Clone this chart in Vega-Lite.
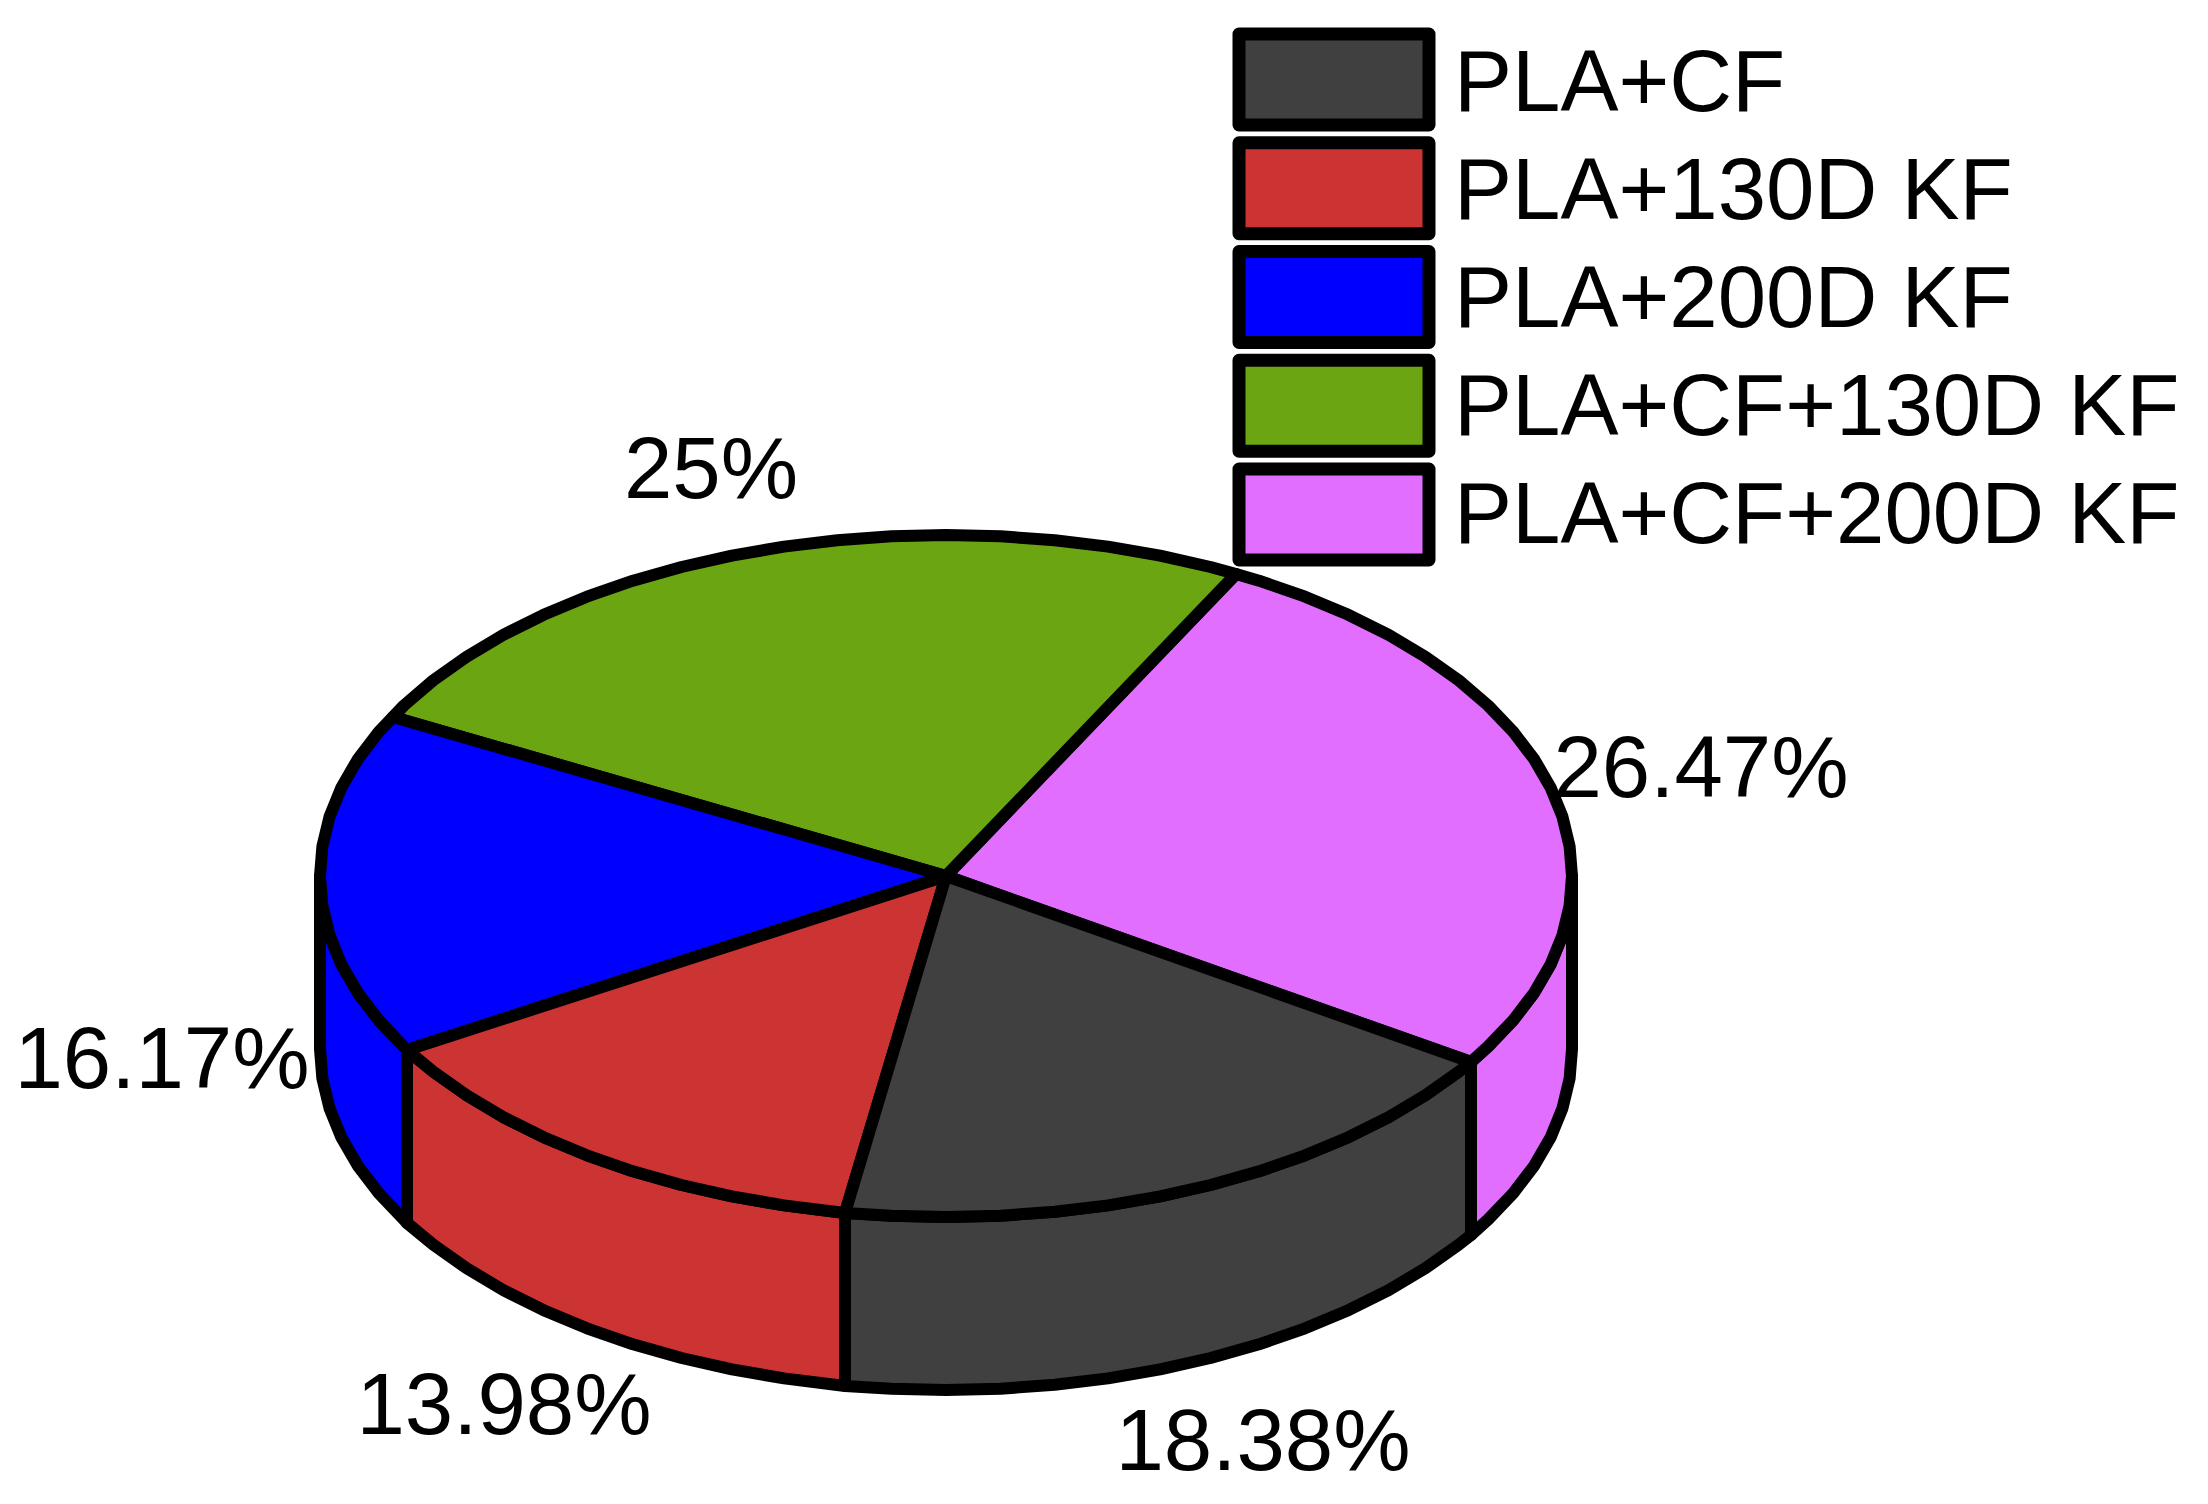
{"$schema":"https://vega.github.io/schema/vega-lite/v6.json","width":2208,"height":1504,"autosize":{"type":"fit","contains":"padding"},"padding":0,"background":"white","view":{"stroke":null},
"datasets":{
"sides":[
{"s":"PLA+200D KF","i":0,"x":320,"y":876},{"s":"PLA+200D KF","i":1,"x":322.4,"y":905.7},{"s":"PLA+200D KF","i":2,"x":329.5,"y":935.2},{"s":"PLA+200D KF","i":3,"x":341.3,"y":964.3},{"s":"PLA+200D KF","i":4,"x":357.7,"y":992.6},{"s":"PLA+200D KF","i":5,"x":378.7,"y":1020.1},{"s":"PLA+200D KF","i":6,"x":407,"y":1050},{"s":"PLA+200D KF","i":7,"x":407,"y":1223},{"s":"PLA+200D KF","i":8,"x":378.7,"y":1193.1},{"s":"PLA+200D KF","i":9,"x":357.7,"y":1165.6},{"s":"PLA+200D KF","i":10,"x":341.3,"y":1137.3},{"s":"PLA+200D KF","i":11,"x":329.5,"y":1108.2},{"s":"PLA+200D KF","i":12,"x":322.4,"y":1078.7},{"s":"PLA+200D KF","i":13,"x":320,"y":1049},
{"s":"PLA+130D KF","i":0,"x":407,"y":1050},{"s":"PLA+130D KF","i":1,"x":433.2,"y":1071.6},{"s":"PLA+130D KF","i":2,"x":466.5,"y":1095.2},{"s":"PLA+130D KF","i":3,"x":503.3,"y":1117.1},{"s":"PLA+130D KF","i":4,"x":543.6,"y":1137.2},{"s":"PLA+130D KF","i":5,"x":586.9,"y":1155.3},{"s":"PLA+130D KF","i":6,"x":633,"y":1171.3},{"s":"PLA+130D KF","i":7,"x":681.5,"y":1185},{"s":"PLA+130D KF","i":8,"x":731.9,"y":1196.4},{"s":"PLA+130D KF","i":9,"x":784,"y":1205.4},{"s":"PLA+130D KF","i":10,"x":845,"y":1213},{"s":"PLA+130D KF","i":11,"x":845,"y":1386},{"s":"PLA+130D KF","i":12,"x":784,"y":1378.4},{"s":"PLA+130D KF","i":13,"x":731.9,"y":1369.4},{"s":"PLA+130D KF","i":14,"x":681.5,"y":1358},{"s":"PLA+130D KF","i":15,"x":633,"y":1344.3},{"s":"PLA+130D KF","i":16,"x":586.9,"y":1328.3},{"s":"PLA+130D KF","i":17,"x":543.6,"y":1310.2},{"s":"PLA+130D KF","i":18,"x":503.3,"y":1290.1},{"s":"PLA+130D KF","i":19,"x":466.5,"y":1268.2},{"s":"PLA+130D KF","i":20,"x":433.2,"y":1244.6},{"s":"PLA+130D KF","i":21,"x":407,"y":1223},
{"s":"PLA+CF","i":0,"x":845,"y":1213},{"s":"PLA+CF","i":1,"x":891.4,"y":1215.7},{"s":"PLA+CF","i":2,"x":946,"y":1217},{"s":"PLA+CF","i":3,"x":1000.6,"y":1215.7},{"s":"PLA+CF","i":4,"x":1054.7,"y":1211.8},{"s":"PLA+CF","i":5,"x":1108,"y":1205.4},{"s":"PLA+CF","i":6,"x":1160.1,"y":1196.4},{"s":"PLA+CF","i":7,"x":1210.5,"y":1185},{"s":"PLA+CF","i":8,"x":1259,"y":1171.3},{"s":"PLA+CF","i":9,"x":1305.1,"y":1155.3},{"s":"PLA+CF","i":10,"x":1348.4,"y":1137.2},{"s":"PLA+CF","i":11,"x":1388.7,"y":1117.1},{"s":"PLA+CF","i":12,"x":1425.5,"y":1095.2},{"s":"PLA+CF","i":13,"x":1458.8,"y":1071.6},{"s":"PLA+CF","i":14,"x":1471,"y":1062},{"s":"PLA+CF","i":15,"x":1471,"y":1235},{"s":"PLA+CF","i":16,"x":1458.8,"y":1244.6},{"s":"PLA+CF","i":17,"x":1425.5,"y":1268.2},{"s":"PLA+CF","i":18,"x":1388.7,"y":1290.1},{"s":"PLA+CF","i":19,"x":1348.4,"y":1310.2},{"s":"PLA+CF","i":20,"x":1305.1,"y":1328.3},{"s":"PLA+CF","i":21,"x":1259,"y":1344.3},{"s":"PLA+CF","i":22,"x":1210.5,"y":1358},{"s":"PLA+CF","i":23,"x":1160.1,"y":1369.4},{"s":"PLA+CF","i":24,"x":1108,"y":1378.4},{"s":"PLA+CF","i":25,"x":1054.7,"y":1384.8},{"s":"PLA+CF","i":26,"x":1000.6,"y":1388.7},{"s":"PLA+CF","i":27,"x":946,"y":1390},{"s":"PLA+CF","i":28,"x":891.4,"y":1388.7},{"s":"PLA+CF","i":29,"x":845,"y":1386},
{"s":"PLA+CF+200D KF","i":0,"x":1471,"y":1062},{"s":"PLA+CF+200D KF","i":1,"x":1488.1,"y":1046.5},{"s":"PLA+CF+200D KF","i":2,"x":1513.3,"y":1020.1},{"s":"PLA+CF+200D KF","i":3,"x":1534.3,"y":992.6},{"s":"PLA+CF+200D KF","i":4,"x":1550.7,"y":964.3},{"s":"PLA+CF+200D KF","i":5,"x":1562.5,"y":935.2},{"s":"PLA+CF+200D KF","i":6,"x":1569.6,"y":905.7},{"s":"PLA+CF+200D KF","i":7,"x":1572,"y":876},{"s":"PLA+CF+200D KF","i":8,"x":1572,"y":1049},{"s":"PLA+CF+200D KF","i":9,"x":1569.6,"y":1078.7},{"s":"PLA+CF+200D KF","i":10,"x":1562.5,"y":1108.2},{"s":"PLA+CF+200D KF","i":11,"x":1550.7,"y":1137.3},{"s":"PLA+CF+200D KF","i":12,"x":1534.3,"y":1165.6},{"s":"PLA+CF+200D KF","i":13,"x":1513.3,"y":1193.1},{"s":"PLA+CF+200D KF","i":14,"x":1488.1,"y":1219.5},{"s":"PLA+CF+200D KF","i":15,"x":1471,"y":1235}
],
"tops":[
{"s":"PLA+CF+200D KF","i":0,"x":946,"y":876},{"s":"PLA+CF+200D KF","i":1,"x":1471,"y":1062},{"s":"PLA+CF+200D KF","i":2,"x":1488.1,"y":1046.5},{"s":"PLA+CF+200D KF","i":3,"x":1513.3,"y":1020.1},{"s":"PLA+CF+200D KF","i":4,"x":1534.3,"y":992.6},{"s":"PLA+CF+200D KF","i":5,"x":1550.7,"y":964.3},{"s":"PLA+CF+200D KF","i":6,"x":1562.5,"y":935.2},{"s":"PLA+CF+200D KF","i":7,"x":1569.6,"y":905.7},{"s":"PLA+CF+200D KF","i":8,"x":1572,"y":876},{"s":"PLA+CF+200D KF","i":9,"x":1569.6,"y":846.3},{"s":"PLA+CF+200D KF","i":10,"x":1562.5,"y":816.8},{"s":"PLA+CF+200D KF","i":11,"x":1550.7,"y":787.7},{"s":"PLA+CF+200D KF","i":12,"x":1534.3,"y":759.4},{"s":"PLA+CF+200D KF","i":13,"x":1513.3,"y":731.9},{"s":"PLA+CF+200D KF","i":14,"x":1488.1,"y":705.5},{"s":"PLA+CF+200D KF","i":15,"x":1458.8,"y":680.4},{"s":"PLA+CF+200D KF","i":16,"x":1425.5,"y":656.8},{"s":"PLA+CF+200D KF","i":17,"x":1388.7,"y":634.9},{"s":"PLA+CF+200D KF","i":18,"x":1348.4,"y":614.8},{"s":"PLA+CF+200D KF","i":19,"x":1305.1,"y":596.7},{"s":"PLA+CF+200D KF","i":20,"x":1259,"y":580.7},{"s":"PLA+CF+200D KF","i":21,"x":1236,"y":574},
{"s":"PLA+CF+130D KF","i":0,"x":946,"y":876},{"s":"PLA+CF+130D KF","i":1,"x":1236,"y":574},{"s":"PLA+CF+130D KF","i":2,"x":1210.5,"y":567},{"s":"PLA+CF+130D KF","i":3,"x":1160.1,"y":555.6},{"s":"PLA+CF+130D KF","i":4,"x":1108,"y":546.6},{"s":"PLA+CF+130D KF","i":5,"x":1054.7,"y":540.2},{"s":"PLA+CF+130D KF","i":6,"x":1000.6,"y":536.3},{"s":"PLA+CF+130D KF","i":7,"x":946,"y":535},{"s":"PLA+CF+130D KF","i":8,"x":891.4,"y":536.3},{"s":"PLA+CF+130D KF","i":9,"x":837.3,"y":540.2},{"s":"PLA+CF+130D KF","i":10,"x":784,"y":546.6},{"s":"PLA+CF+130D KF","i":11,"x":731.9,"y":555.6},{"s":"PLA+CF+130D KF","i":12,"x":681.5,"y":567},{"s":"PLA+CF+130D KF","i":13,"x":633,"y":580.7},{"s":"PLA+CF+130D KF","i":14,"x":586.9,"y":596.7},{"s":"PLA+CF+130D KF","i":15,"x":543.6,"y":614.8},{"s":"PLA+CF+130D KF","i":16,"x":503.3,"y":634.9},{"s":"PLA+CF+130D KF","i":17,"x":466.5,"y":656.8},{"s":"PLA+CF+130D KF","i":18,"x":433.2,"y":680.4},{"s":"PLA+CF+130D KF","i":19,"x":403.9,"y":705.5},{"s":"PLA+CF+130D KF","i":20,"x":393,"y":717},
{"s":"PLA+200D KF","i":0,"x":946,"y":876},{"s":"PLA+200D KF","i":1,"x":393,"y":717},{"s":"PLA+200D KF","i":2,"x":378.7,"y":731.9},{"s":"PLA+200D KF","i":3,"x":357.7,"y":759.4},{"s":"PLA+200D KF","i":4,"x":341.3,"y":787.7},{"s":"PLA+200D KF","i":5,"x":329.5,"y":816.8},{"s":"PLA+200D KF","i":6,"x":322.4,"y":846.3},{"s":"PLA+200D KF","i":7,"x":320,"y":876},{"s":"PLA+200D KF","i":8,"x":322.4,"y":905.7},{"s":"PLA+200D KF","i":9,"x":329.5,"y":935.2},{"s":"PLA+200D KF","i":10,"x":341.3,"y":964.3},{"s":"PLA+200D KF","i":11,"x":357.7,"y":992.6},{"s":"PLA+200D KF","i":12,"x":378.7,"y":1020.1},{"s":"PLA+200D KF","i":13,"x":407,"y":1050},
{"s":"PLA+130D KF","i":0,"x":946,"y":876},{"s":"PLA+130D KF","i":1,"x":407,"y":1050},{"s":"PLA+130D KF","i":2,"x":433.2,"y":1071.6},{"s":"PLA+130D KF","i":3,"x":466.5,"y":1095.2},{"s":"PLA+130D KF","i":4,"x":503.3,"y":1117.1},{"s":"PLA+130D KF","i":5,"x":543.6,"y":1137.2},{"s":"PLA+130D KF","i":6,"x":586.9,"y":1155.3},{"s":"PLA+130D KF","i":7,"x":633,"y":1171.3},{"s":"PLA+130D KF","i":8,"x":681.5,"y":1185},{"s":"PLA+130D KF","i":9,"x":731.9,"y":1196.4},{"s":"PLA+130D KF","i":10,"x":784,"y":1205.4},{"s":"PLA+130D KF","i":11,"x":845,"y":1213},
{"s":"PLA+CF","i":0,"x":946,"y":876},{"s":"PLA+CF","i":1,"x":845,"y":1213},{"s":"PLA+CF","i":2,"x":891.4,"y":1215.7},{"s":"PLA+CF","i":3,"x":946,"y":1217},{"s":"PLA+CF","i":4,"x":1000.6,"y":1215.7},{"s":"PLA+CF","i":5,"x":1054.7,"y":1211.8},{"s":"PLA+CF","i":6,"x":1108,"y":1205.4},{"s":"PLA+CF","i":7,"x":1160.1,"y":1196.4},{"s":"PLA+CF","i":8,"x":1210.5,"y":1185},{"s":"PLA+CF","i":9,"x":1259,"y":1171.3},{"s":"PLA+CF","i":10,"x":1305.1,"y":1155.3},{"s":"PLA+CF","i":11,"x":1348.4,"y":1137.2},{"s":"PLA+CF","i":12,"x":1388.7,"y":1117.1},{"s":"PLA+CF","i":13,"x":1425.5,"y":1095.2},{"s":"PLA+CF","i":14,"x":1458.8,"y":1071.6},{"s":"PLA+CF","i":15,"x":1471,"y":1062}
],
"labels":[{"label":"25%","x":711,"y":472},{"label":"26.47%","x":1701,"y":771},{"label":"16.17%","x":162,"y":1062},{"label":"13.98%","x":504,"y":1408},{"label":"18.38%","x":1263,"y":1444}],
"swatches":[
{"s":"PLA+CF","x":1239,"x2":1429,"y":34,"y2":125},
{"s":"PLA+130D KF","x":1239,"x2":1429,"y":142.75,"y2":233.75},
{"s":"PLA+200D KF","x":1239,"x2":1429,"y":251.5,"y2":342.5},
{"s":"PLA+CF+130D KF","x":1239,"x2":1429,"y":360.25,"y2":451.25},
{"s":"PLA+CF+200D KF","x":1239,"x2":1429,"y":469,"y2":560}
],
"swatchText":[
{"s":"PLA+CF","x":1454,"y":85},
{"s":"PLA+130D KF","x":1454,"y":193},
{"s":"PLA+200D KF","x":1454,"y":301},
{"s":"PLA+CF+130D KF","x":1454,"y":409},
{"s":"PLA+CF+200D KF","x":1454,"y":517}
]
},
"encoding":{
"x":{"field":"x","type":"quantitative","scale":{"domain":[0,2208],"nice":false,"zero":false},"axis":null},
"y":{"field":"y","type":"quantitative","scale":{"domain":[1504,0],"nice":false,"zero":false},"axis":null}
},
"layer":[
{"data":{"name":"sides"},"mark":{"type":"line","interpolate":"linear-closed","stroke":"black","strokeWidth":12,"strokeJoin":"round","clip":false},
"encoding":{"order":{"field":"i","type":"quantitative"},"fill":{"field":"s","type":"nominal","scale":{"domain":["PLA+CF","PLA+130D KF","PLA+200D KF","PLA+CF+130D KF","PLA+CF+200D KF"],"range":["#404040","#CC3333","#0000FF","#6BA612","#E16EFF"]},"legend":null}}},
{"data":{"name":"tops"},"mark":{"type":"line","interpolate":"linear-closed","stroke":"black","strokeWidth":12,"strokeJoin":"round","clip":false},
"encoding":{"order":{"field":"i","type":"quantitative"},"fill":{"field":"s","type":"nominal","legend":null}}},
{"data":{"name":"swatches"},"mark":{"type":"rect","stroke":"black","strokeWidth":13,"strokeJoin":"round"},
"encoding":{"x2":{"field":"x2"},"y2":{"field":"y2"},"fill":{"field":"s","type":"nominal","legend":null}}},
{"data":{"name":"swatchText"},"mark":{"type":"text","font":"Liberation Sans","fontSize":87,"fill":"black","align":"left","baseline":"middle"},"encoding":{"text":{"field":"s","type":"nominal"}}},
{"data":{"name":"labels"},"mark":{"type":"text","font":"Liberation Sans","fontSize":87,"fill":"black","align":"center","baseline":"middle"},"encoding":{"text":{"field":"label","type":"nominal"}}}
]}
